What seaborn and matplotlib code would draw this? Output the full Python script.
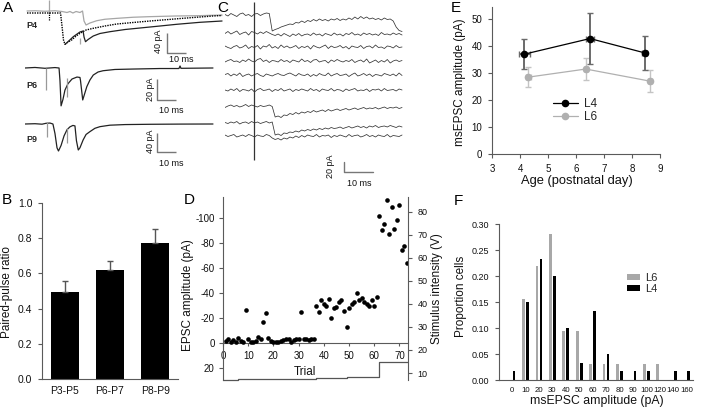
import numpy as np
import pandas as pd
import matplotlib
matplotlib.use('Agg')
import matplotlib.pyplot as plt
import seaborn as sns

sns.set_theme(style='ticks')
plt.rcParams['font.family'] = ['Liberation Sans', 'DejaVu Sans']
plt.rcParams['axes.unicode_minus'] = False

W, H = 701, 411

# ---------------- A: evoked EPSCs (time in ms, current in pA) ----------------
p4_l6_t = [1.1, 5.4, 10.8, 16.2, 20.0, 22.7, 24.3, 25.9, 27.6, 29.7, 31.1, 31.9, 33.0, 35.1, 38.8, 43.2, 49.6, 58.4, 67.6, 81.1, 94.6, 106.5]
p4_l6_v = [0, 0.5, -0.5, 0.5, -1, -3, -1, -4, -1, -3, 0, -20, -28, -24, -19.4, -16.5, -14.7, -12.5, -11.3, -10, -9.3, -8]
p4_single_t = [1.1, 10.8, 16.2, 19.2, 20.0, 20.8, 21.6, 23.2, 25.2, 27.6, 29.7, 33.0, 36.9, 43.2, 49.6, 58.4, 67.6, 85.4, 101.6, 106.5]
p4_single_v = [-4, -4, -4, -4, -30, -58, -66.6, -62, -58, -50, -44.6, -38, -34.6, -30, -26, -23, -20, -14.6, -10, -9]
p4_pair_t = [21.6, 22.5, 26.1, 29.7, 31.4, 31.9, 32.7, 34.1, 36.9, 40.5, 45.9, 54.1, 63.8, 73.0, 82.0, 94.6, 106.5]
p4_pair_v = [-66.6, -64, -51.4, -42, -40, -52, -61.4, -57, -50, -45, -41.4, -37, -33.4, -30, -26.6, -22.6, -20]

p6_t = [0, 5.4, 10.8, 16.2, 18.4, 18.9, 19.5, 20.5, 21.6, 23.2, 25.4, 28.1, 29.7, 30.0, 31.2, 32.2, 33.4, 35.1, 36.9, 39.5, 42.2, 48.6, 58.4, 73.0, 83.2, 83.8, 84.3, 101.6]
p6_v = [0, 0.5, -0.3, 0.4, 0, -12, -36, -30, -21, -15, -10.5, -8.6, -9, -12, -30.4, -24.7, -17.8, -11.4, -6.7, -3.8, -2.6, -1.4, -1, -0.5, -0.5, 1.9, -0.3, 0]

p9_t = [0, 5.4, 9.2, 11.4, 13.5, 15.1, 16.2, 17.3, 18.1, 19.5, 21.1, 22.7, 24.3, 25.9, 27.0, 27.8, 28.8, 29.7, 31.4, 33.0, 35.1, 37.8, 40.5, 45.9, 54.1, 67.6, 83.8, 101.6]
p9_v = [0, 0.6, -0.4, 1.5, 2, 0, -20, -50, -56.7, -45, -25, -12, -6, -3, -4, -35, -54.6, -50, -33.6, -22, -16, -9, -5.6, -2.5, -1.2, -0.6, -0.2, 0]

# stimulus artifacts: time, top, bottom (pA)
p4_art = [(13.0, 22, -2), (29.7, -54, -66)]
p6_art = [(11.4, 0, -20.9), (22.5, -9.5, -27.6)]
p9_art = [(11.7, 4.2, -27.3), (22.7, -8.4, -40)]

# ---------------- B: paired-pulse ratio ----------------
b_groups = ['P3-P5', 'P6-P7', 'P8-P9']
b_ppr = [0.493, 0.617, 0.774]
b_sem = [0.061, 0.051, 0.078]

# ---------------- C: minimal-stimulation sweeps (pA, 1 ms samples) ----------------
c_dt = 1.0
c_stim = 9.83
c_offsets = [0, -36, -64, -92, -120, -150, -184, -216, -242]
c_tr1 = [1, -2, 3, 0, -3, 2, 4, -1, 1, -3, 2, 3, -1, 2, 4, 3, -32, -29, -27, -24, -22, -20, -18, -19, -15, -16, -12, -15, -11, -13, -9, -12, -8, -11, -9, -12, -8, -10, -7, -11, -8, -10, -6, -9, -4, -8, -3, -7, -4, -8, -6, -9, -7, -10, -6, -9, -8, -12, -24, -31, -33]
c_tr2 = [-1, 3, -2, 1, 4, -3, 0, 2, -4, 3, 1, -2, 2, -1, 3, 0, -3, -5, -2, -6, -1, -4, -7, -2, -5, -1, -6, -3, -2, -5, 0, -4, -2, -6, -1, -3, -5, 0, -4, -2, -6, -1, -3, 1, -4, -2, -5, 0, -3, -1, -4, -2, -5, 1, -3, -2, -4, 0, -3, -1, -4]
c_tr3 = [2, -1, -3, 1, 3, -2, 0, 4, -3, 1, -1, 3, -4, 2, 0, 5, -2, 1, -3, 4, -1, 2, -2, 0, 3, -3, 1, -1, 2, -4, 3, 0, -2, 1, 4, -3, 2, -1, 0, 3, -2, 1, -4, 2, 0, -1, 3, -3, 1, 2, -2, 4, -1, 0, -3, 2, 1, -2, 3, -1, 0]
c_tr4 = [-2, 1, 3, -1, 0, -3, 2, -1, 4, 0, -2, 3, 5, -1, 2, -3, 1, 0, -2, 3, -1, 1, -3, 2, 0, -2, 4, -1, 1, -3, 2, 3, -2, 0, 1, -4, 2, -1, 3, 0, -2, 1, -1, 3, -3, 0, 2, -2, 4, -4, -1, 2, -3, 1, -2, 3, -4, 0, 2, -1, 1]
c_tr5 = [1, 3, -2, 2, -1, 4, -3, 0, 2, -2, 1, 3, -1, -3, 2, 0, -2, 1, 3, 0, -1, 2, 4, 1, -2, 3, 0, -1, 2, -3, 1, -2, 3, 0, -1, 4, -2, 1, 3, -1, 0, 2, -3, 1, 4, -2, 0, 3, -1, 2, -3, 1, 0, -2, 3, 1, -1, 2, -2, 4, -1]
c_tr6 = [0, -2, 2, -1, 3, -3, 1, 0, -2, 2, -4, 1, 3, -1, 0, 2, -3, 1, -1, 3, -2, 0, 2, -3, 1, -1, 2, 0, -2, 3, -1, 1, -3, 2, 0, -1, 3, -2, 1, 0, -3, 2, -1, 1, 3, -2, 0, -1, 2, -3, 1, 0, 2, -2, 3, -1, 0, 1, -2, 2, 0]
c_tr7 = [-1, 2, 4, 1, 3, 0, 2, 5, 1, 4, 2, 0, 3, 1, 2, 4, 1, -20, -18, -21, -16, -17, -13, -15, -11, -14, -10, -12, -9, -11, -7, -10, -8, -6, -9, -5, -8, -6, -4, -7, -5, -3, -6, -4, -2, -5, -3, -1, -4, -2, -3, -1, -4, -2, 0, -3, -1, -2, 0, -3, -1]
c_tr8 = [1, -1, 2, 0, 3, -2, 1, 2, -1, 3, 0, 2, -1, 1, 3, 0, 2, -24, -22, -25, -20, -21, -18, -19, -16, -18, -14, -16, -13, -15, -12, -14, -11, -13, -10, -12, -9, -11, -10, -8, -11, -9, -7, -10, -8, -6, -9, -7, -10, -6, -8, -5, -9, -7, -6, -8, -5, -7, -9, -6, -8]
c_tr9 = [2, -1, 1, 3, -2, 0, 2, -1, 3, 1, -2, 2, 0, -1, 3, 1, -4, -7, -5, -8, -4, -6, -2, -4, 0, -3, 1, -2, 2, 0, -1, 3, -2, 1, 0, 2, -3, 1, -1, 2, 0, -2, 3, -1, 1, 2, -2, 0, 3, -1, 1, -2, 2, 0, -1, 3, -2, 1, 0, -1, 2]
c_traces = [c_tr1, c_tr2, c_tr3, c_tr4, c_tr5, c_tr6, c_tr7, c_tr8, c_tr9]

# ---------------- D: EPSC amplitude and stimulus per trial ----------------
d_epsc_low = [-1.5, -3.0, -0.5, -2.5, -1.0, -4.0, -2.0, -0.5, -26.5, -3.5, -1.0, -0.5, -2.0, -4.5, -3.5, -16.5, -24.0, -4.0,
              -1.5, -1.0, -1.0, -0.5, -2.0, -2.5, -3.5, -3.0, -0.5, -2.5, -3.0, -3.0, -24.5, -3.0, -3.5, -2.5, -3.5, -3.0]
d_epsc_high = [-29.9, -24.5, -34.1, -31.0, -29.9, -35.2, -20.3, -27.7, -28.8, -32.5, -34.7, -25.6, -12.8, -27.7, -31.0,
               -32.5, -40.3, -34.4, -36.3, -32.5, -31.0, -29.6, -34.1, -29.6, -37.1, -101.9, -90.7, -95.0, -114.0, -87.5,
               -108.5, -91.0, -98.7, -110.7, -74.4, -77.9, -64.3]
d_epsc = d_epsc_low + d_epsc_high
d_trial = list(range(1, len(d_epsc) + 1))
stim_edges = [0, 6, 37, 49, 62, 73.4]
stim_volts = [7.0, 7.4, 7.9, 8.4, 14.8]

# ---------------- E: msEPSC amplitude vs age ----------------
e_age_l4 = [4.15, 6.5, 8.45]
e_amp_l4 = [37.0, 42.8, 37.5]
e_sem_l4 = [5.6, 9.3, 6.3]
e_agesem_l4 = [0.2, 0.15, 0.1]
e_age_l6 = [4.3, 6.35, 8.65]
e_amp_l6 = [28.5, 31.5, 27.0]
e_sem_l6 = [3.6, 4.0, 4.0]
e_agesem_l6 = [0.08, 0.08, 0.08]

# ---------------- F: msEPSC amplitude distribution ----------------
f_bins = ['0', '10', '20', '30', '40', '50', '60', '70', '80', '90', '100', '120', '140', '160']
f_l6 = [0, 0.156, 0.219, 0.281, 0.094, 0.094, 0.031, 0.031, 0.031, 0, 0.031, 0.031, 0, 0]
f_l4 = [0.017, 0.15, 0.233, 0.2, 0.1, 0.033, 0.133, 0.05, 0.017, 0.017, 0.017, 0, 0.017, 0.017]

AXC = '#5a5a5a'
TXT = '#111111'
GRAY = '#a8a8a8'


def box(x0, y0, x1, y1):
    return [x0 / W, 1 - y1 / H, (x1 - x0) / W, (y1 - y0) / H]


def fxy(x, y):
    return (x / W, 1 - y / H)


def style(ax, size, pad=3):
    for s in ax.spines.values():
        s.set_color(AXC)
        s.set_linewidth(0.8)
    ax.tick_params(colors=AXC, labelcolor=TXT, labelsize=size, width=0.8, length=3, direction='out', pad=pad)


def letter(s, x, y):
    fig.text(*fxy(x, y), s, fontsize=11, ha='left', va='top', color='black')


def scalebar(ax, x0, y0, dx, dy, ylab, ytxt, xtxt):
    ax.plot([x0, x0, x0 + dx], [y0 + dy, y0, y0], color='#777777', lw=1.0, solid_capstyle='butt')
    ax.text(ytxt[0], ytxt[1], ylab, rotation=90, ha='center', va='center', fontsize=6.5, color=TXT)
    ax.text(xtxt[0], xtxt[1], '10 ms', ha='center', va='center', fontsize=6.5, color=TXT)


fig = plt.figure(figsize=(W / 100, H / 100), dpi=100)

# ---- A ----
def trace_axes(y0, y1, ylim):
    ax = fig.add_axes(box(25, y0, 230, y1))
    ax.set_xlim(0, 110.8)
    ax.set_ylim(*ylim)
    ax.axis('off')
    return ax

a4 = trace_axes(0, 65, (-108, 22))
a4.plot(p4_l6_t, p4_l6_v, color='#a6a6a6', lw=0.9)
a4.plot(p4_single_t, p4_single_v, color='black', lw=1.0, ls=(0, (1, 0.8)))
a4.plot(p4_pair_t, p4_pair_v, color='#222222', lw=0.9)
a4.vlines(p4_art[0][0], -2, 22, color='#a6a6a6', lw=0.9)
a4.vlines(p4_art[0][0], -18, -2, color='black', lw=0.9, ls=(0, (1, 0.8)))
a4.vlines(p4_art[1][0], p4_art[1][2], p4_art[1][1], color='#a6a6a6', lw=0.9)
a4.text(0.9, -28, 'P4', fontsize=6.5, fontweight='bold', ha='left', va='center')
scalebar(a4, 76.8, -84, 10, 40, '40 pA', (72.4, -60), (84.3, -96))

a6 = trace_axes(60, 115, (-44.7, 7.6))
a6.plot(p6_t, p6_v, color='#222222', lw=0.9)
for t, top, bot in p6_art:
    a6.vlines(t, bot, top, color='#999999', lw=0.9)
a6.text(0.9, -17.1, 'P6', fontsize=6.5, fontweight='bold', ha='left', va='center')
scalebar(a6, 71.4, -30.4, 10, 20, '20 pA', (67.8, -20), (78.9, -40))

a9 = trace_axes(115, 175, (-107.1, 18.9))
a9.plot(p9_t, p9_v, color='#222222', lw=0.9)
for t, top, bot in p9_art:
    a9.vlines(t, bot, top, color='#999999', lw=0.9)
a9.text(0.9, -31.5, 'P9', fontsize=6.5, fontweight='bold', ha='left', va='center')
scalebar(a9, 71.4, -58.8, 10, 40, '40 pA', (67.8, -37), (78.9, -84))

# ---- B ----
axb = fig.add_axes(box(42, 203, 178, 379))
sns.barplot(x=b_groups, y=b_ppr, color='black', width=0.62, errorbar=None, saturation=1, linewidth=0, ax=axb)
axb.errorbar(range(len(b_groups)), b_ppr, yerr=[[0] * len(b_sem), b_sem], fmt='none', ecolor='#555555',
             elinewidth=1.0, capsize=2.4, capthick=1.0, zorder=1)
axb.set_xlim(-0.5, 2.5)
axb.set_ylim(0, 1.0)
axb.set_yticks([0, 0.2, 0.4, 0.6, 0.8, 1.0], ['0.0', '0.2', '0.4', '0.6', '0.8', '1.0'])
sns.despine(ax=axb)
style(axb, 7.5, pad=4)
axb.tick_params(axis='x', length=0, pad=5)
axb.set_ylabel('Paired-pulse ratio', fontsize=8.5, color=TXT)
axb.yaxis.set_label_coords(*fxy(13, 292), transform=fig.transFigure)

# ---- C ----
axc = fig.add_axes(box(225, 0, 405, 192))
axc.set_xlim(0, 61)
axc.set_ylim(-354, 30)
axc.axis('off')
for vals, off in zip(c_traces, c_offsets):
    axc.plot(np.arange(len(vals)) * c_dt, np.array(vals) + off, color='#333333', lw=0.55)
axc.vlines(c_stim, -290, 26, color='#333333', lw=0.9)
axc.plot([40.3, 40.3, 50.3], [-294, -314, -314], color='#777777', lw=1.0)
axc.text(35.9, -302, '20 pA', rotation=90, ha='center', va='center', fontsize=6.5, color=TXT)
axc.text(45.4, -338, '10 ms', ha='center', va='center', fontsize=6.5, color=TXT)

# ---- D ----
axd = fig.add_axes(box(223, 197, 408, 380))
sns.scatterplot(x=d_trial, y=d_epsc, color='black', s=11, linewidth=0, ax=axd, zorder=3)
axd.set_xlim(0, 73.4)
axd.set_ylim(29.6, -116.8)
axd.spines['bottom'].set_position(('data', 0))
axd.spines['top'].set_visible(False)
axd.spines['right'].set_visible(False)
axd.set_yticks([-100, -80, -60, -40, -20, 0, 20])
axd.set_xticks(range(0, 80, 10))
style(axd, 7)
axd.tick_params(axis='x', length=2, pad=4)
axd.set_ylabel('EPSC amplitude (pA)', fontsize=8.5, color=TXT)
axd.yaxis.set_label_coords(*fxy(194, 295), transform=fig.transFigure)
axd.set_xlabel('Trial', fontsize=8.5, color=TXT)
axd.xaxis.set_label_coords(*fxy(305, 366), transform=fig.transFigure)

axd2 = axd.twinx()
axd2.plot(stim_edges, stim_volts + [stim_volts[-1]], drawstyle='steps-post', color='#555555', lw=0.9, clip_on=False)
axd2.set_ylim(6.96, 86.5)
axd2.set_yticks(range(10, 90, 10))
for side in ['top', 'bottom', 'left']:
    axd2.spines[side].set_visible(False)
style(axd2, 6.5, pad=4)
axd2.set_ylabel('Stimulus intensity (V)', fontsize=8.5, color=TXT)
axd2.yaxis.set_label_coords(*fxy(431, 289), transform=fig.transFigure)

# ---- E ----
axe = fig.add_axes(box(492, 7, 660, 154))
axe.errorbar(e_age_l6, e_amp_l6, yerr=e_sem_l6, xerr=e_agesem_l6, fmt='none', ecolor='#c4c4c4',
             elinewidth=1.0, capsize=2.5, capthick=1.0)
axe.errorbar(e_age_l4, e_amp_l4, yerr=e_sem_l4, xerr=e_agesem_l4, fmt='none', ecolor='#6a6a6a',
             elinewidth=1.4, capsize=2.5, capthick=1.0)
sns.lineplot(x=e_age_l4, y=e_amp_l4, color='black', marker='o', markersize=5.5, markeredgewidth=0, lw=0.9,
             label='L4', sort=False, ax=axe)
sns.lineplot(x=e_age_l6, y=e_amp_l6, color='#b0b0b0', marker='o', markersize=5.5, markeredgewidth=0, lw=0.9,
             label='L6', sort=False, ax=axe)
axe.set_xlim(3, 9)
axe.set_ylim(0, 54.5)
axe.set_xticks(range(3, 10))
axe.set_yticks(range(0, 60, 10))
sns.despine(ax=axe)
style(axe, 7, pad=4)
axe.set_ylabel('msEPSC amplitude (pA)', fontsize=8.5, color=TXT)
axe.yaxis.set_label_coords(*fxy(466, 82), transform=fig.transFigure)
axe.set_xlabel('Age (postnatal day)', fontsize=9.3, color=TXT)
axe.xaxis.set_label_coords(*fxy(577, 175), transform=fig.transFigure)
axe.legend(loc='upper left', bbox_to_anchor=fxy(553, 98), bbox_transform=fig.transFigure, frameon=False,
           fontsize=8.5, handlelength=2.1, handletextpad=0.5, labelspacing=0.12, borderpad=0, borderaxespad=0)

# ---- F ----
f_df = pd.DataFrame({
    'bin': f_bins * 2,
    'prop': f_l6 + f_l4,
    'layer': ['L6'] * len(f_bins) + ['L4'] * len(f_bins),
})
axf = fig.add_axes(box(499, 224, 693, 380))
sns.barplot(data=f_df, x='bin', y='prop', hue='layer', order=f_bins, hue_order=['L6', 'L4'],
            palette={'L6': GRAY, 'L4': 'black'}, width=0.6, gap=0.33, saturation=1, linewidth=0, ax=axf)
axf.set_xlim(-0.97, 13.47)
axf.set_ylim(0, 0.30)
axf.set_yticks([0, 0.05, 0.10, 0.15, 0.20, 0.25, 0.30], ['0.00', '0.05', '0.10', '0.15', '0.20', '0.25', '0.30'])
sns.despine(ax=axf)
style(axf, 6.5, pad=4)
axf.tick_params(axis='x', length=0, labelsize=5.6, pad=5)
axf.set_ylabel('Proportion cells', fontsize=8.5, color=TXT)
axf.yaxis.set_label_coords(*fxy(467, 296), transform=fig.transFigure)
axf.set_xlabel('msEPSC amplitude (pA)', fontsize=8.8, color=TXT)
axf.xaxis.set_label_coords(*fxy(597, 395), transform=fig.transFigure)
axf.legend(loc='upper left', bbox_to_anchor=fxy(627, 273), bbox_transform=fig.transFigure, frameon=False,
           fontsize=8, handlelength=1.2, handleheight=0.45, handletextpad=0.45, labelspacing=0.1,
           borderpad=0, borderaxespad=0)

# ---- panel letters ----
letter('A', 3, 1)
letter('B', 2, 193)
letter('C', 217, 1)
letter('D', 184, 193)
letter('E', 451, 1)
letter('F', 454, 194)

fig.savefig('out.png', dpi=100)
